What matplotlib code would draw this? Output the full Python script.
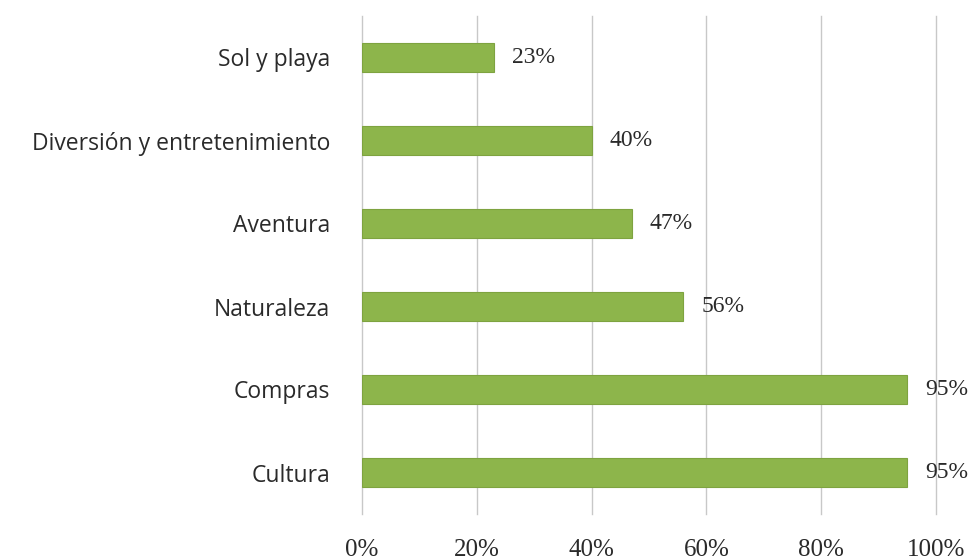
import matplotlib
matplotlib.use("Agg")
import matplotlib.pyplot as plt

categories = ["Sol y playa", "Diversión y entretenimiento", "Aventura", "Naturaleza", "Compras", "Cultura"]
values = [23, 40, 47, 56, 95, 95]
xticks = [0, 20, 40, 60, 80, 100]
xtick_labels = ["0%", "20%", "40%", "60%", "80%", "100%"]

fig = plt.figure(figsize=(9.72, 5.6), dpi=100)
ax = fig.add_axes([362/972, 1-514/560, (936-362)/972, 498/560])

ypos = list(range(len(categories)))[::-1]
ax.barh(ypos, values, height=0.36, color="#8db54b", edgecolor="#7ea340", linewidth=0.8, zorder=3)
ax.set_xlim(0, 100)
ax.set_ylim(-0.5, len(categories) - 0.5)

ax.set_yticks(ypos)
ax.set_yticklabels(categories, fontfamily="Open Sans", fontsize=16.5, color="#2a2a2a")
ax.set_xticks(xticks)
ax.set_xticklabels(xtick_labels, fontfamily="Liberation Serif", fontsize=18, color="#2a2a2a")
ax.tick_params(axis="y", length=0, pad=23)
ax.tick_params(axis="x", length=0, pad=18)

ax.grid(axis="x", color="#c8c8c8", linewidth=1.0, zorder=0)
for gl in ax.get_xgridlines():
    gl.set_clip_on(False)
for s in ax.spines.values():
    s.set_visible(False)

for y, v in zip(ypos, values):
    ax.annotate(f"{v}%", xy=(v, y), xytext=(13, 0), textcoords="offset points",
                va="center", ha="left", fontfamily="Liberation Serif", fontsize=17,
                color="#2a2a2a", annotation_clip=False)

fig.savefig("out.png", dpi=100)
